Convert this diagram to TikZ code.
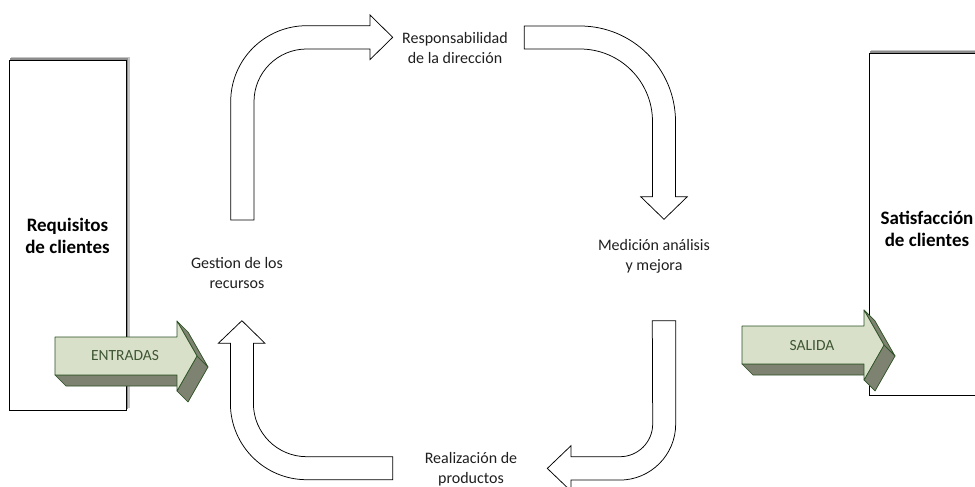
\documentclass[tikz,border=0pt]{standalone}
\usepackage{fontspec}
\setmainfont{Carlito}
\definecolor{arrowlight}{HTML}{D9E0CA}
\definecolor{arrowdark}{HTML}{7E8270}
\definecolor{arrowedge}{HTML}{2C5024}
\definecolor{arrowtext}{HTML}{3E5632}
\begin{document}
\begin{tikzpicture}[x=1pt,y=1pt,
  flow/.style={draw=black,fill=white,line width=0.75pt,line join=miter},
  steplabel/.style={align=center,text=black!88,font=\fontsize{16}{20}\selectfont,inner sep=0pt},
  client/.style={align=center,font=\bfseries\fontsize{19}{22}\selectfont,inner sep=0pt},
  panel/.style={draw=black,line width=0.8pt,fill=white},
  panelshadow/.style={fill=black!45},
  front/.style={fill=arrowlight,draw=arrowedge,line width=0.7pt,line join=round},
  side/.style={fill=arrowdark,draw=arrowedge,line width=0.7pt,line join=round},
  io/.style={text=arrowtext,font=\fontsize{15.5}{17}\selectfont,inner sep=0pt},
  blockarrow/.pic={
    % extruded faces first, front face on top
    \path[side] (0,-19) -- (122,-19) -- (133,-30) -- (11,-30) -- cycle;
    \path[side] (142,0) -- (122,-35) -- (133,-46) -- (153,-11) -- cycle;
    \path[side] (122,35) -- (142,0) -- (153,-11) -- (133,24) -- cycle;
    \path[front] (0,19) -- (122,19) -- (122,35) -- (142,0) -- (122,-35) -- (122,-19) -- (0,-19) -- cycle;
  }
]
\useasboundingbox (0,0) rectangle (975,-487);

% client panels with a soft shadow up and to the right
\fill[panelshadow,opacity=0.5] (11,-57) rectangle (129.5,-408);
\fill[panelshadow] (10,-58.5) rectangle (127.5,-409);
\path[panel] (9,-60) rectangle (126,-410);
\fill[panelshadow,opacity=0.5] (871,-50) rectangle (990,-393);
\fill[panelshadow] (870,-51.5) rectangle (988,-394);
\path[panel] (869,-53) rectangle (986,-395);
\node[client] (req) at (67.5,-236) {Requisitos\\de clientes};
\node[client] (sat) at (927,-229) {Satisfacción\\de clientes};

% cycle arrows
\path[flow] (230.7,-220) -- (230.7,-101.7) arc[start angle=180,end angle=90,radius=76]
  -- (370,-25.7) -- (370,-15) -- (392.7,-37.3) -- (370,-59.6) -- (370,-49)
  -- (306.7,-49) arc[start angle=90,end angle=180,radius=52.7] -- (254,-220) -- cycle;
\path[flow] (524.3,-26) -- (580,-26) arc[start angle=90,end angle=0,radius=95.5]
  -- (675.5,-196.7) -- (687.3,-196.7) -- (664,-219.3) -- (640.7,-196.7) -- (652.5,-196.7)
  -- (652.5,-121.5) arc[start angle=0,end angle=90,radius=72.5] -- (524.3,-49) -- cycle;
\path[flow] (652.3,-320.7) -- (675.7,-320.7) -- (675.7,-424) arc[start angle=0,end angle=-90,radius=56.1]
  -- (571,-480.1) -- (571,-491.1) -- (547.3,-468.4) -- (571,-445.7) -- (571,-456.7)
  -- (620,-456.7) arc[start angle=-90,end angle=0,radius=32.7] -- cycle;
\path[flow] (392.7,-456.7) -- (306.7,-456.7) arc[start angle=270,end angle=180,radius=53.3]
  -- (253.4,-343.3) -- (265,-343.3) -- (241.9,-320.7) -- (218.3,-343.3) -- (230.4,-343.3)
  -- (230.4,-403.4) arc[start angle=180,end angle=270,radius=76.3] -- (392.7,-479.7) -- cycle;

% stage labels
\node[steplabel] (resp) at (455,-48) {Responsabilidad\\de la dirección};
\node[steplabel] (med) at (654,-256) {Medición análisis\\y mejora};
\node[steplabel] (real) at (471,-469) {Realización de\\productos};
\node[steplabel] (gest) at (237,-273) {Gestion de los\\recursos};

% input and output block arrows
\pic at (55,-356) {blockarrow};
\node[io] (in) at (125,-356) {ENTRADAS};
\pic at (742,-345) {blockarrow};
\node[io] (out) at (812,-346) {SALIDA};
\end{tikzpicture}
\end{document}
